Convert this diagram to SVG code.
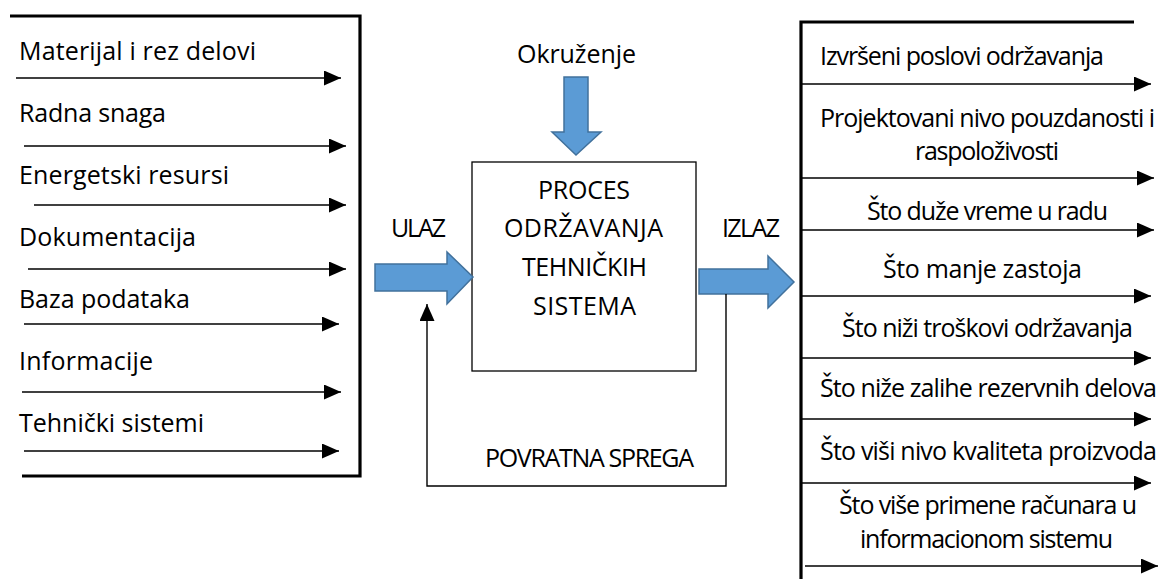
<svg xmlns="http://www.w3.org/2000/svg" width="1158" height="579" viewBox="0 0 1158 579">
  <style>
    .t { font-family: "Open Sans", "Liberation Sans", sans-serif; font-size: 25px; fill: #000; }
    .frame { fill: none; stroke: #000; stroke-width: 3.2; }
    .flow { fill: none; stroke: #000; stroke-width: 1.4; marker-end: url(#head); }
    .block { fill: #5B9BD5; stroke: #41719C; stroke-width: 1.5; stroke-linejoin: miter; }
    .box { fill: #fff; stroke: #000; stroke-width: 1.3; }
  </style>
  <defs>
    <marker id="head" markerUnits="userSpaceOnUse" markerWidth="18" markerHeight="16" refX="17" refY="7.5" orient="auto">
      <path d="M0,0 L17,7.5 L0,15 Z" fill="#000"/>
    </marker>
  </defs>
  <rect width="1158" height="579" fill="#fff"/>

  <!-- Inputs panel -->
  <g id="inputs">
    <path class="frame" d="M10,16 H360 V476 H22"/>
    <text class="t" x="19" y="60" textLength="237">Materijal i rez delovi</text>
    <text class="t" x="19" y="122" textLength="147">Radna snaga</text>
    <text class="t" x="19" y="184" textLength="210">Energetski resursi</text>
    <text class="t" x="19" y="246" textLength="177">Dokumentacija</text>
    <text class="t" x="19" y="308" textLength="171">Baza podataka</text>
    <text class="t" x="19" y="370" textLength="134">Informacije</text>
    <text class="t" x="19" y="432" textLength="185">Tehnički sistemi</text>
    <line class="flow" x1="16" y1="78" x2="341" y2="78"/>
    <line class="flow" x1="24" y1="146" x2="346" y2="146"/>
    <line class="flow" x1="34" y1="205" x2="346" y2="205"/>
    <line class="flow" x1="28" y1="269" x2="346" y2="269"/>
    <line class="flow" x1="24" y1="324" x2="339" y2="324"/>
    <line class="flow" x1="22" y1="392" x2="341" y2="392"/>
    <line class="flow" x1="24" y1="451" x2="339" y2="451"/>
  </g>

  <!-- Environment -->
  <g id="environment">
    <text class="t" x="517" y="63" textLength="119">Okruženje</text>
    <path class="block" d="M564,77 H588 V132 H601 L576,155 L552,132 H564 Z"/>
  </g>

  <!-- Process block -->
  <g id="process">
    <rect class="box" x="472" y="162" width="224" height="209"/>
    <text class="t" x="538" y="199" textLength="92">PROCES</text>
    <text class="t" x="504" y="237" textLength="159">ODRŽAVANJA</text>
    <text class="t" x="522" y="276" textLength="125">TEHNIČKIH</text>
    <text class="t" x="533" y="315" textLength="103">SISTEMA</text>
  </g>

  <!-- Input arrow -->
  <g id="ulaz">
    <text class="t" x="391" y="237" textLength="55">ULAZ</text>
    <path class="block" d="M375,264 H447 V252 L473,277 L447,304 V291 H375 Z"/>
  </g>

  <!-- Output arrow -->
  <g id="izlaz">
    <text class="t" x="722" y="237" textLength="58">IZLAZ</text>
    <path class="block" d="M699,269 H768 V256 L794,282 L768,308 V294 H699 Z"/>
  </g>

  <!-- Feedback loop -->
  <g id="connectors">
    <polyline class="flow" points="726,294 726,486 427,486 427,304" stroke="#222"/>
  </g>
  <g id="feedback-label">
    <text class="t" x="485" y="467" textLength="209">POVRATNA SPREGA</text>
  </g>

  <!-- Outputs panel -->
  <g id="outputs">
    <path class="frame" d="M1134,22 H801 V579"/>
    <text class="t" x="820" y="65" textLength="284">Izvršeni poslovi održavanja</text>
    <text class="t" x="820" y="127" textLength="335">Projektovani nivo pouzdanosti i</text>
    <text class="t" x="915" y="160" textLength="144">raspoloživosti</text>
    <text class="t" x="867" y="220" textLength="241">Što duže vreme u radu</text>
    <text class="t" x="883" y="278" textLength="199">Što manje zastoja</text>
    <text class="t" x="842" y="337" textLength="291">Što niži troškovi održavanja</text>
    <text class="t" x="820" y="397" textLength="337">Što niže zalihe rezervnih delova</text>
    <text class="t" x="820" y="460" textLength="337">Što viši nivo kvaliteta proizvoda</text>
    <text class="t" x="839" y="514" textLength="298">Što više primene računara u</text>
    <text class="t" x="860" y="548" textLength="253">informacionom sistemu</text>
    <line class="flow" x1="801" y1="84" x2="1151" y2="84"/>
    <line class="flow" x1="801" y1="178" x2="1154" y2="178"/>
    <line class="flow" x1="801" y1="230" x2="1154" y2="230"/>
    <line class="flow" x1="801" y1="296" x2="1151" y2="296"/>
    <line class="flow" x1="801" y1="358" x2="1151" y2="358"/>
    <line class="flow" x1="801" y1="419" x2="1151" y2="419"/>
    <line class="flow" x1="801" y1="483" x2="1151" y2="483"/>
    <line class="flow" x1="805" y1="566" x2="1158" y2="566"/>
  </g>
</svg>
